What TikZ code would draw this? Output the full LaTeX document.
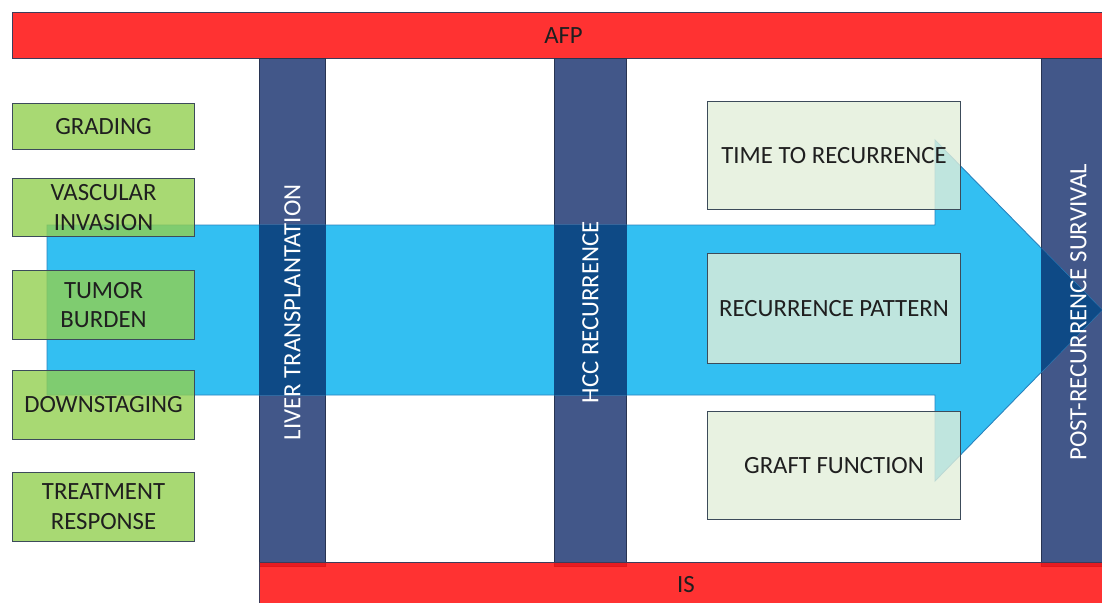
\documentclass[tikz,border=0pt]{standalone}
\usepackage{fontspec}
\setmainfont{Carlito}

\definecolor{bandred}{RGB}{255,19,19}
\definecolor{bandline}{RGB}{60,60,90}
\definecolor{barnavy}{RGB}{66,87,137}
\definecolor{barshade}{RGB}{14,74,134}
\definecolor{flowblue}{RGB}{51,191,242}
\definecolor{flowline}{RGB}{40,130,190}
\definecolor{factorgreen}{RGB}{146,208,80}
\definecolor{outcomegreen}{RGB}{226,239,218}
\definecolor{boxline}{RGB}{60,75,90}

\newlength\unitpx
\setlength\unitpx{0.02cm}

\begin{document}
\begin{tikzpicture}[x=0.02cm,y=-0.02cm,
  every node/.style={font=\fontsize{14.1}{17}\selectfont, text=black!88},
  band/.style={anchor=north west, inner sep=0pt, fill=bandred, fill opacity=0.865,
    text opacity=1, draw=bandline, line width=0.6pt},
  navybar/.style={anchor=north west, inner sep=0pt, fill=barnavy,
    draw=barnavy!60!black, line width=0.4pt, minimum height=508\unitpx},
  bartext/.style={rotate=90, text=white},
  factor/.style={anchor=north west, inner sep=0pt, align=center, fill=factorgreen,
    fill opacity=0.8, text opacity=1, draw=boxline, line width=0.6pt,
    minimum width=182\unitpx},
  outcome/.style={anchor=north west, inner sep=0pt, align=center, fill=outcomegreen,
    fill opacity=0.8, text opacity=1, draw=boxline, line width=0.6pt,
    minimum width=253\unitpx}]
\path[use as bounding box, clip] (0,0) rectangle (1102,602);

%AFP band
\node[band, minimum width=1102\unitpx, minimum height=46\unitpx] (afp) at (12,12) {AFP};

%Time points
\node[navybar, minimum width=66\unitpx] (lt) at (259,58) {};
\node[navybar, minimum width=72\unitpx] (hcc) at (554,58) {};
\node[navybar, minimum width=74\unitpx] (prs) at (1041,58) {};

%Flow arrow
\path[save path=\flowpath] (47,225) -- (935,225) -- (935,140) -- (1102,310)
  -- (935,481) -- (935,395) -- (47,395) -- cycle;
\path[use path=\flowpath, fill=flowblue, draw=flowline, line width=0.5pt];
\begin{scope}
\clip[use path=\flowpath];
\fill[barshade] (lt.north west) rectangle (lt.south east);
\fill[barshade] (hcc.north west) rectangle (hcc.south east);
\fill[barshade] (prs.north west) rectangle (prs.south east);
\end{scope}

\node[bartext] (lt-label) at (lt.center) {LIVER TRANSPLANTATION};
\node[bartext] (hcc-label) at (hcc.center) {HCC RECURRENCE};
\node[bartext] (prs-label) at (prs.center) {POST-RECURRENCE SURVIVAL};

%Tumor factors
\node[factor, minimum height=46\unitpx] (grading) at (12,103) {GRADING};
\node[factor, minimum height=58\unitpx] (vascular) at (12,178) {VASCULAR\\INVASION};
\node[factor, minimum height=69\unitpx] (burden) at (12,270) {TUMOR\\BURDEN};
\node[factor, minimum height=69\unitpx] (downstaging) at (12,370) {DOWNSTAGING};
\node[factor, minimum height=69\unitpx] (response) at (12,472) {TREATMENT\\RESPONSE};

%Recurrence outcomes
\node[outcome, minimum height=108\unitpx] (ttr) at (707,101) {TIME TO RECURRENCE};
\node[outcome, minimum height=110\unitpx] (pattern) at (707,253) {RECURRENCE PATTERN};
\node[outcome, minimum height=108\unitpx] (graft) at (707,411) {GRAFT FUNCTION};

%IS band
\node[band, minimum width=855\unitpx, minimum height=48\unitpx] (is) at (259,562) {};
\node (is-label) at (686,585) {IS};
\end{tikzpicture}
\end{document}
